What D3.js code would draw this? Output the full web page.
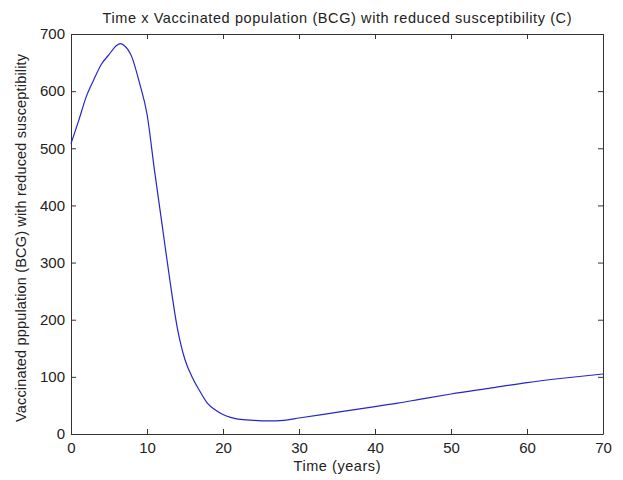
<!DOCTYPE html>
<html>
<head>
<meta charset="utf-8">
<script src="https://cdn.jsdelivr.net/npm/d3@7"></script>
<style>
  html, body { margin: 0; padding: 0; background: #ffffff; }
  svg { display: block; }
  text { font-family: "Liberation Sans", Arial, sans-serif; fill: #222; }
</style>
</head>
<body>
<svg id="chart" width="623" height="480"></svg>
<script>
const titleText = "Time x Vaccinated population (BCG) with reduced susceptibility (C)";
const xLabelText = "Time (years)";
const yLabelText = "Vaccinated pppulation (BCG) with reduced susceptibility";

const timeYears = [0, 1, 2, 3, 4, 5, 6, 6.5, 7, 8, 9, 10, 11, 12, 13, 14, 15, 16, 17, 18, 19, 20, 21, 22, 24, 26, 28, 30, 33, 36, 40, 43, 46, 50, 55, 60, 65, 70];
const vaccinated = [508, 548, 590, 620, 647, 664, 680, 683, 680, 660, 615, 560, 460, 365, 270, 185, 130, 98, 74, 53, 42, 34, 29, 26, 24, 23, 24, 28, 34, 40, 48, 54, 61, 70, 80, 90, 98, 105];

const xTicks = [0, 10, 20, 30, 40, 50, 60, 70];
const yTicks = [0, 100, 200, 300, 400, 500, 600, 700];

const svg = d3.select("#chart");
const margin = { left: 71, right: 20, top: 34, bottom: 46 };
const W = 623, H = 480;
const x0 = margin.left, x1 = W - margin.right, y0 = H - margin.bottom, y1 = margin.top;

const x = d3.scaleLinear().domain([0, 70]).range([x0, x1]);
const y = d3.scaleLinear().domain([0, 700]).range([y0, y1]);

const axisColor = "#333";
const tickLen = 5;

const gx = svg.append("g").attr("transform", `translate(0,${y0})`)
  .call(d3.axisBottom(x).tickValues(xTicks).tickSizeInner(-tickLen).tickSizeOuter(0).tickPadding(8).tickFormat(d3.format("d")));
const gxt = svg.append("g").attr("transform", `translate(0,${y1})`)
  .call(d3.axisTop(x).tickValues(xTicks).tickSizeInner(-tickLen).tickSizeOuter(0).tickFormat(""));
const gy = svg.append("g").attr("transform", `translate(${x0},0)`)
  .call(d3.axisLeft(y).tickValues(yTicks).tickSizeInner(-tickLen).tickSizeOuter(0).tickPadding(6).tickFormat(d3.format("d")));
const gyr = svg.append("g").attr("transform", `translate(${x1},0)`)
  .call(d3.axisRight(y).tickValues(yTicks).tickSizeInner(-tickLen).tickSizeOuter(0).tickFormat(""));

[gx, gxt, gy, gyr].forEach(g => {
  g.selectAll("path.domain").attr("stroke", axisColor).attr("stroke-width", 1);
  g.selectAll(".tick line").attr("stroke", axisColor).attr("stroke-width", 1);
  g.selectAll(".tick text").style("font-family", "'Liberation Sans', Arial, sans-serif").style("font-size", "15px").attr("fill", "#222");
});

const line = d3.line()
  .x((d, i) => x(timeYears[i]))
  .y(d => y(d))
  .curve(d3.curveMonotoneX);

svg.append("path")
  .datum(vaccinated)
  .attr("d", line)
  .attr("fill", "none")
  .attr("stroke", "#2525cc")
  .attr("stroke-width", 1.2);

svg.append("text")
  .attr("x", (x0 + x1) / 2)
  .attr("y", 23)
  .attr("text-anchor", "middle")
  .attr("textLength", 469)
  .attr("lengthAdjust", "spacing")
  .style("font-size", "14.5px")
  .text(titleText);

svg.append("text")
  .attr("x", (x0 + x1) / 2)
  .attr("y", 471)
  .attr("text-anchor", "middle")
  .attr("textLength", 87)
  .attr("lengthAdjust", "spacing")
  .style("font-size", "14.5px")
  .text(xLabelText);

svg.append("text")
  .attr("transform", `translate(26,${(y0 + y1) / 2 + 4}) rotate(-90)`)
  .attr("text-anchor", "middle")
  .attr("textLength", 368)
  .attr("lengthAdjust", "spacing")
  .style("font-size", "14.5px")
  .text(yLabelText);
</script>
</body>
</html>
